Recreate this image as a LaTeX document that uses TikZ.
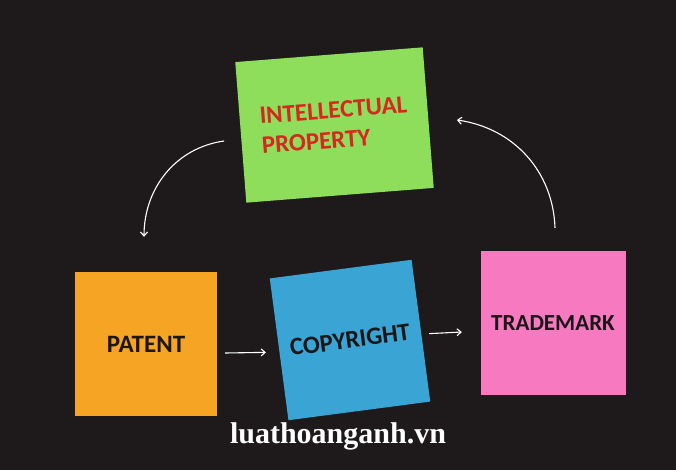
\documentclass[tikz,border=0pt]{standalone}
\usepackage{fontspec}
\setmainfont{Liberation Serif}
\newfontfamily\notefont{Carlito}
\usetikzlibrary{arrows.meta}
\definecolor{board}{RGB}{30,26,28}
\definecolor{notegreen}{RGB}{142,222,92}
\definecolor{noteorange}{RGB}{246,164,35}
\definecolor{noteblue}{RGB}{58,165,213}
\definecolor{notepink}{RGB}{247,122,192}
\definecolor{inkred}{RGB}{214,40,30}
\definecolor{inkdark}{RGB}{28,22,24}
\begin{document}
\begin{tikzpicture}[x=1pt,y=1pt,
  note/.style={minimum width=143pt, minimum height=143pt, inner sep=0pt,
    font=\notefont\bfseries\fontsize{25}{30}\selectfont, text=inkdark},
  flow/.style={draw=white, line width=1.1pt, -{Straight Barb[length=4pt,width=7pt]}}]
\fill[board] (0,0) rectangle (676,-470);
% sticky notes
\node[note, fill=notegreen, rotate=4.5, minimum width=188pt, minimum height=141pt,
  text=inkred, align=left] (ip) at (334.5,-125) {INTELLECTUAL\\PROPERTY};
\node[note, fill=noteorange, minimum width=142pt, minimum height=144pt] (patent) at (146,-344) {PATENT};
\node[note, fill=noteblue, rotate=7.5] (copyright) at (350,-340) {COPYRIGHT};
\node[note, fill=notepink, minimum width=145pt, minimum height=144pt,
  font=\notefont\bfseries\fontsize{23}{28}\selectfont] (trademark) at (553,-323) {TRADEMARK};
% arrows
\draw[flow] ([xshift=-16.5pt,yshift=-8.6pt]ip.west) to[out=188,in=90] ([xshift=-2pt,yshift=35pt]patent.north);
\draw[flow] ([xshift=8pt,yshift=-9pt]patent.east) -- ([xshift=-13pt,yshift=-3pt]copyright.west);
\draw[flow] ([xshift=8pt,yshift=-3pt]copyright.east) -- ([xshift=-18.5pt,yshift=-9pt]trademark.west);
\draw[flow] ([xshift=2pt,yshift=23pt]trademark.north) to[out=92,in=-8] ([xshift=28.5pt,yshift=-2.4pt]ip.east);
% site name
\node[anchor=base, text=white, font=\bfseries\fontsize{30}{32}\selectfont] (site) at (338,-443) {luathoanganh.vn};
\end{tikzpicture}
\end{document}
